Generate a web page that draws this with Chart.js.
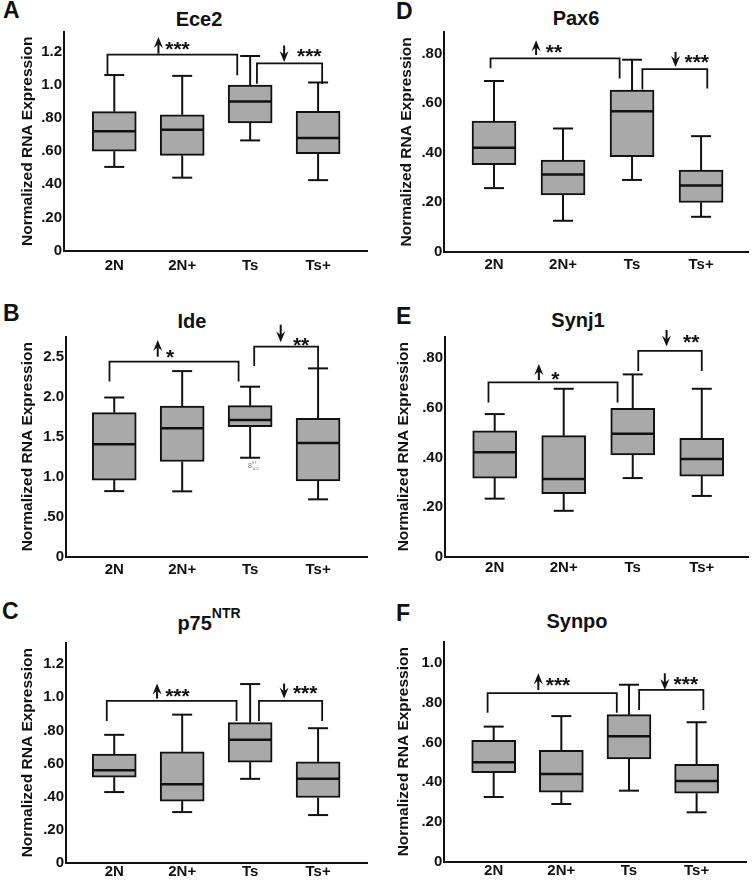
<!DOCTYPE html>
<html>
<head>
<meta charset="utf-8">
<script src="https://cdn.jsdelivr.net/npm/chart.js@4.4.0/dist/chart.umd.min.js"></script>
<style>
  html, body { margin: 0; padding: 0; background: #fff; }
  #figure { position: relative; width: 753px; height: 880px; font-family: "Liberation Sans", Arial, sans-serif; color: #111; }
  .panel { position: absolute; }
  .panel canvas { position: absolute; left: 0; top: 0; }
  .letter { position: absolute; font-weight: bold; font-size: 23px; line-height: 23px; }
  .gene { position: absolute; width: 200px; text-align: center; font-weight: bold; font-size: 20px; line-height: 20px; white-space: nowrap; }
  .gene span { font-size: 14px; position: relative; top: -12px; }
</style>
</head>
<body>
<div id="figure">
  <div class="letter" style="left:3px; top:-1px;">A</div>
  <div class="letter" style="left:3px; top:302px;">B</div>
  <div class="letter" style="left:2px; top:600px;">C</div>
  <div class="letter" style="left:396px; top:0px;">D</div>
  <div class="letter" style="left:396px; top:305px;">E</div>
  <div class="letter" style="left:396px; top:602px;">F</div>

  <div class="gene" style="left:99px; top:9px;">Ece2</div>
  <div class="gene" style="left:92px; top:311px;">Ide</div>
  <div class="gene" style="left:109px; top:613px;">p75<span>NTR</span></div>
  <div class="gene" style="left:476px; top:8px;">Pax6</div>
  <div class="gene" style="left:478px; top:310px;">Synj1</div>
  <div class="gene" style="left:477px; top:611px;">Synpo</div>

  <div class="panel" style="left:0px; top:0px;"><canvas id="chartA" width="376" height="290"></canvas></div>
  <div class="panel" style="left:0px; top:290px;"><canvas id="chartB" width="376" height="290"></canvas></div>
  <div class="panel" style="left:0px; top:580px;"><canvas id="chartC" width="376" height="300"></canvas></div>
  <div class="panel" style="left:376px; top:0px;"><canvas id="chartD" width="377" height="290"></canvas></div>
  <div class="panel" style="left:376px; top:290px;"><canvas id="chartE" width="377" height="290"></canvas></div>
  <div class="panel" style="left:376px; top:580px;"><canvas id="chartF" width="377" height="300"></canvas></div>
</div>

<script>
// ---- data ----
const groups = ["2N", "2N+", "Ts", "Ts+"];
const axisTitle = "Normalized RNA Expression";

const ticksA = [0, 0.2, 0.4, 0.6, 0.8, 1.0, 1.2];
const tickLabelsA = ["0", ".20", ".40", ".60", ".80", "1.0", "1.2"];
const ticksB = [0, 0.5, 1.0, 1.5, 2.0, 2.5];
const tickLabelsB = ["0", ".50", "1.0", "1.5", "2.0", "2.5"];
const ticksD = [0, 0.2, 0.4, 0.6, 0.8];
const tickLabelsD = ["0", ".20", ".40", ".60", ".80"];
const ticksF = [0, 0.2, 0.4, 0.6, 0.8, 1.0];
const tickLabelsF = ["0", ".20", ".40", ".60", ".80", "1.0"];

// A - Ece2
const ece2Min = [0.505, 0.44, 0.665, 0.425];
const ece2Q1 = [0.60, 0.575, 0.77, 0.585];
const ece2Med = [0.72, 0.73, 0.90, 0.68];
const ece2Q3 = [0.839, 0.82, 1.0, 0.84];
const ece2Max = [1.06, 1.055, 1.175, 1.015];

// B - Ide
const ideMin = [0.82, 0.817, 1.237, 0.717];
const ideQ1 = [0.958, 1.19, 1.625, 0.946];
const ideMed = [1.405, 1.605, 1.71, 1.42];
const ideQ3 = [1.80, 1.884, 1.888, 1.73];
const ideMax = [1.99, 2.32, 2.125, 2.354];

// C - p75NTR
const p75Min = [0.427, 0.306, 0.507, 0.288];
const p75Q1 = [0.517, 0.372, 0.608, 0.394];
const p75Med = [0.559, 0.475, 0.744, 0.507];
const p75Q3 = [0.656, 0.67, 0.847, 0.61];
const p75Max = [0.773, 0.895, 1.08, 0.813];

// D - Pax6
const pax6Min = [0.257, 0.125, 0.29, 0.141];
const pax6Q1 = [0.352, 0.229, 0.384, 0.199];
const pax6Med = [0.42, 0.312, 0.568, 0.268];
const pax6Q3 = [0.528, 0.37, 0.653, 0.33];
const pax6Max = [0.69, 0.498, 0.776, 0.467];

// E - Synj1
const synj1Min = [0.234, 0.185, 0.317, 0.245];
const synj1Q1 = [0.317, 0.254, 0.41, 0.325];
const synj1Med = [0.421, 0.313, 0.496, 0.394];
const synj1Q3 = [0.507, 0.488, 0.598, 0.477];
const synj1Max = [0.575, 0.677, 0.735, 0.677];

// F - Synpo
const synpoMin = [0.326, 0.291, 0.358, 0.249];
const synpoQ1 = [0.449, 0.351, 0.518, 0.345];
const synpoMed = [0.501, 0.442, 0.632, 0.407];
const synpoQ3 = [0.612, 0.561, 0.741, 0.491];
const synpoMax = [0.681, 0.734, 0.892, 0.703];

// significance marks, in axis units: [xLeft, xRight, yTop, yLegLeft, yLegRight]
const ece2Brackets = [[-0.10, 1.81, 1.183, 1.056, 1.058], [2.10, 3.06, 1.131, 1.008, 1.008]];
const ideBrackets = [[-0.07, 1.83, 2.4375, 2.19, 2.19], [2.06, 3.0, 2.625, 2.385, 2.36]];
const p75Brackets = [[-0.11, 1.80, 0.978, 0.857, 0.857], [2.13, 3.06, 0.978, 0.857, 0.857]];
const pax6Brackets = [[-0.05, 1.82, 0.781, 0.741, 0.70], [2.15, 3.09, 0.738, 0.656, 0.66]];
const synj1Brackets = [[-0.09, 1.78, 0.703, 0.622, 0.622], [2.08, 3.0, 0.83, 0.749, 0.749]];
const synpoBrackets = [[-0.09, 1.82, 0.850, 0.751, 0.751], [2.15, 3.10, 0.866, 0.765, 0.765]];
// arrows: [x, yFrom, yTo] (head at yTo)
const ece2Arrows = [[0.65, 1.189, 1.29], [2.50, 1.239, 1.139]];
const ideArrows = [[0.64, 2.5, 2.71], [2.45, 2.9, 2.68]];
const p75Arrows = [[0.63, 0.992, 1.083], [2.5, 1.083, 0.992]];
const pax6Arrows = [[0.61, 0.795, 0.855], [2.63, 0.808, 0.747]];
const synj1Arrows = [[0.64, 0.712, 0.777], [2.49, 0.914, 0.847]];
const synpoArrows = [[0.66, 0.866, 0.95], [2.53, 0.95, 0.866]];
// stars: [xLeft, yCenter, text]
const ece2Stars = [[0.75, 1.25, "***"], [2.69, 1.205, "***"]];
const ideStars = [[0.76, 2.56, "*"], [2.63, 2.71, "**"]];
const p75Stars = [[0.75, 1.042, "***"], [2.63, 1.058, "***"]];
const pax6Stars = [[0.75, 0.828, "**"], [2.76, 0.788, "***"]];
const synj1Stars = [[0.82, 0.739, "*"], [2.73, 0.887, "**"]];
const synpoStars = [[0.77, 0.916, "***"], [2.66, 0.924, "***"]];

// ---- styling ----
const INK = "#111111";
const BOX_FILL = "#a9a9a9";
const FONT = "'Liberation Sans', Arial, sans-serif";
const BOX_W = 44;
const CAP_W = 20;
const X_AXIS_H = 30;

const panels = [
  { id: "chartA", w: 376, h: 290, area: { left: 64, top: 32, right: 367, bottom: 250.5 }, xRange: [-0.74, 3.72], yMax: 1.32,
    ticks: ticksA, tickLabels: tickLabelsA, min: ece2Min, q1: ece2Q1, med: ece2Med, q3: ece2Q3, max: ece2Max,
    brackets: ece2Brackets, arrows: ece2Arrows, stars: ece2Stars, titleMid: 28, xPad: 6 },
  { id: "chartB", w: 376, h: 290, area: { left: 66, top: 46.7, right: 367, bottom: 266.7 }, xRange: [-0.71, 3.72], yMax: 2.75,
    ticks: ticksB, tickLabels: tickLabelsB, min: ideMin, q1: ideQ1, med: ideMed, q3: ideQ3, max: ideMax,
    brackets: ideBrackets, arrows: ideArrows, stars: ideStars, titleMid: 28, xPad: 4, note: [1.97, 1.11] },
  { id: "chartC", w: 376, h: 300, area: { left: 66, top: 62.7, right: 367, bottom: 282.7 }, xRange: [-0.71, 3.72], yMax: 1.33,
    ticks: ticksA, tickLabels: tickLabelsA, min: p75Min, q1: p75Q1, med: p75Med, q3: p75Q3, max: p75Max,
    brackets: p75Brackets, arrows: p75Arrows, stars: p75Stars, titleMid: 28, xPad: 0 },
  { id: "chartD", w: 377, h: 290, area: { left: 68.3, top: 32, right: 372, bottom: 251.7 }, xRange: [-0.72, 3.68], yMax: 0.888,
    ticks: ticksD, tickLabels: tickLabelsD, min: pax6Min, q1: pax6Q1, med: pax6Med, q3: pax6Q3, max: pax6Max,
    brackets: pax6Brackets, arrows: pax6Arrows, stars: pax6Stars, titleMid: 30.5, xPad: 4 },
  { id: "chartE", w: 377, h: 290, area: { left: 69, top: 46.7, right: 372, bottom: 266.7 }, xRange: [-0.72, 3.67], yMax: 0.887,
    ticks: ticksD, tickLabels: tickLabelsD, min: synj1Min, q1: synj1Q1, med: synj1Med, q3: synj1Q3, max: synj1Max,
    brackets: synj1Brackets, arrows: synj1Arrows, stars: synj1Stars, titleMid: 28, xPad: 2.5 },
  { id: "chartF", w: 377, h: 300, area: { left: 68.3, top: 61.7, right: 370, bottom: 281.7 }, xRange: [-0.73, 3.73], yMax: 1.109,
    ticks: ticksF, tickLabels: tickLabelsF, min: synpoMin, q1: synpoQ1, med: synpoMed, q3: synpoQ3, max: synpoMax,
    brackets: synpoBrackets, arrows: synpoArrows, stars: synpoStars, titleMid: 28, xPad: 0 }
];

function hLine(ctx, x0, x1, y) {
  ctx.beginPath(); ctx.moveTo(x0, y); ctx.lineTo(x1, y); ctx.stroke();
}
function vLine(ctx, x, y0, y1) {
  ctx.beginPath(); ctx.moveTo(x, y0); ctx.lineTo(x, y1); ctx.stroke();
}
function drawArrow(ctx, x, y0, y1) {
  const dir = Math.sign(y1 - y0);
  const head = 11, half = 4.5;
  ctx.lineWidth = 2;
  vLine(ctx, x, y0, y1 - dir * head * 0.6);
  ctx.beginPath();
  ctx.moveTo(x, y1);
  ctx.lineTo(x - half, y1 - dir * head);
  ctx.lineTo(x, y1 - dir * head * 0.65);
  ctx.lineTo(x + half, y1 - dir * head);
  ctx.closePath();
  ctx.fill();
}

// whiskers, medians and the significance brackets, all placed through the chart scales
function boxLayer(p) {
  return {
    id: "boxLayer",
    afterDatasetsDraw(chart) {
      const { ctx, scales: { x, y } } = chart;
      ctx.save();
      ctx.strokeStyle = INK;
      ctx.fillStyle = INK;
      p.med.forEach((m, i) => {
        const cx = x.getPixelForValue(i);
        ctx.lineWidth = 2;
        vLine(ctx, cx, y.getPixelForValue(p.q3[i]), y.getPixelForValue(p.max[i]));
        vLine(ctx, cx, y.getPixelForValue(p.q1[i]), y.getPixelForValue(p.min[i]));
        hLine(ctx, cx - CAP_W / 2, cx + CAP_W / 2, y.getPixelForValue(p.max[i]));
        hLine(ctx, cx - CAP_W / 2, cx + CAP_W / 2, y.getPixelForValue(p.min[i]));
        ctx.lineWidth = 2.5;
        hLine(ctx, cx - BOX_W / 2 + 1, cx + BOX_W / 2 - 1, y.getPixelForValue(m));
      });
      ctx.lineWidth = 1.8;
      p.brackets.forEach(([xl, xr, top, legL, legR]) => {
        ctx.beginPath();
        ctx.moveTo(x.getPixelForValue(xl), y.getPixelForValue(legL));
        ctx.lineTo(x.getPixelForValue(xl), y.getPixelForValue(top));
        ctx.lineTo(x.getPixelForValue(xr), y.getPixelForValue(top));
        ctx.lineTo(x.getPixelForValue(xr), y.getPixelForValue(legR));
        ctx.stroke();
      });
      p.arrows.forEach(([ax, y0, y1]) => {
        drawArrow(ctx, x.getPixelForValue(ax), y.getPixelForValue(y0), y.getPixelForValue(y1));
      });
      const starSize = 21;
      ctx.font = "bold " + starSize + "px " + FONT;
      ctx.textAlign = "left";
      ctx.textBaseline = "alphabetic";
      p.stars.forEach(([sx, sy, text]) => {
        ctx.fillText(text, x.getPixelForValue(sx), y.getPixelForValue(sy) + starSize * 0.58);
      });
      if (p.note) {
        const nx = x.getPixelForValue(p.note[0]);
        const ny = y.getPixelForValue(p.note[1]);
        ctx.fillStyle = "#777";
        ctx.font = "7px " + FONT;
        ctx.fillText("8", nx, ny);
        ctx.font = "4px " + FONT;
        ctx.fillText("97", nx + 4, ny - 4);
        ctx.fillText("102", nx + 4, ny + 2);
      }
      ctx.restore();
    }
  };
}

function makePanel(p) {
  const titleFont = { family: FONT, size: 15.5, weight: "bold" };
  const tickFont = { family: FONT, size: 15, weight: "bold" };
  new Chart(document.getElementById(p.id), {
    type: "bar",
    data: {
      datasets: [{
        data: p.q1.map((v, i) => ({ x: i, y: [v, p.q3[i]] })),
        backgroundColor: BOX_FILL,
        borderColor: INK,
        borderWidth: 2,
        borderSkipped: false,
        barThickness: BOX_W
      }]
    },
    options: {
      responsive: false,
      animation: false,
      events: [],
      layout: {
        padding: { left: 0, top: p.area.top, right: p.w - p.area.right, bottom: p.h - p.area.bottom - X_AXIS_H }
      },
      plugins: { legend: { display: false }, tooltip: { enabled: false } },
      scales: {
        x: {
          type: "linear",
          min: p.xRange[0],
          max: p.xRange[1],
          offset: false,
          grid: { display: false, drawTicks: false },
          border: { display: true, color: INK, width: 2 },
          afterBuildTicks: (s) => { s.ticks = groups.map((g, i) => ({ value: i })); },
          afterFit: (s) => { s.height = X_AXIS_H; },
          ticks: { autoSkip: false, maxRotation: 0, padding: p.xPad, color: INK, font: tickFont,
                   callback: (v) => groups[v] }
        },
        y: {
          min: 0,
          max: p.yMax,
          grid: { display: false, drawTicks: false },
          border: { display: true, color: INK, width: 2 },
          afterBuildTicks: (s) => { s.ticks = p.ticks.map((v) => ({ value: v })); },
          afterFit: (s) => { s.width = p.area.left; },
          ticks: { padding: 2, color: INK, font: tickFont,
                   callback: (v, i) => p.tickLabels[i] },
          title: { display: true, text: axisTitle, color: INK, font: titleFont,
                   padding: { top: p.titleMid - titleFont.size * 0.6, bottom: 0 } }
        }
      }
    },
    plugins: [boxLayer(p)]
  });
}

panels.forEach(makePanel);
</script>
</body>
</html>
